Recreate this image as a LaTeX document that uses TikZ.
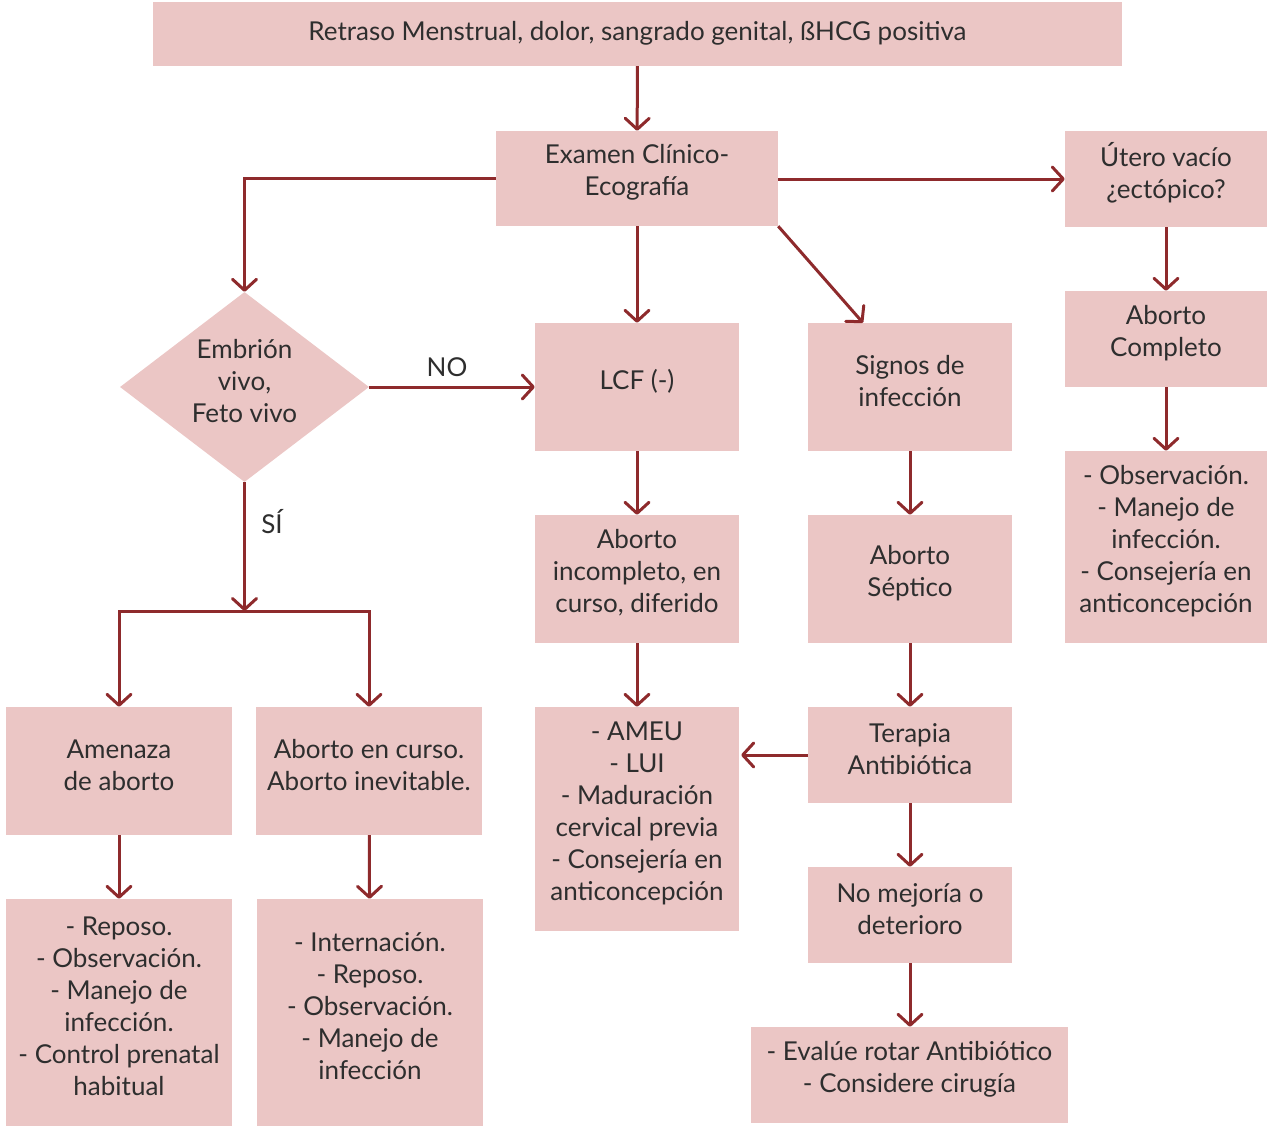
\documentclass[tikz,border=0pt]{standalone}
\usepackage{fontspec}
\setmainfont{Lato}
\usetikzlibrary{arrows.meta,shapes.geometric}
\definecolor{boxfill}{HTML}{EBC6C5}
\definecolor{linkred}{HTML}{8E2A2C}
\definecolor{txt}{HTML}{2E2E2E}
% filled box (#2 = name, #3 = centre, #4 x #5 = size) with its text set slightly high
\newcommand\flowbox[6][]{%
  \node[box, minimum width=#4pt, minimum height=#5pt, #1] (#2) at (#3) {};
  \node[boxtext] (#2-t) at ([yshift=6pt]#2.center) {#6};}
\begin{document}
\begin{tikzpicture}[x=1pt,y=-1pt,
  box/.style={fill=boxfill, draw=none, inner sep=0pt},
  boxtext/.style={text=txt, align=center, inner sep=0pt,
    font=\fontsize{26}{32}\selectfont},
  lbl/.style={text=txt, inner sep=0pt, font=\fontsize{26}{32}\selectfont},
  link/.style={draw=linkred, line width=3pt,
    -{Straight Barb[length=11pt,width=24pt,line cap=round,line join=round]}}]
\useasboundingbox (0,0) rectangle (1267,1127);

% boxes
\node[box, minimum width=969pt, minimum height=64pt] (top) at (637.5,34) {};
\node[boxtext] (top-t) at ([yshift=1pt]top.center)
  {Retraso Menstrual, dolor, sangrado genital, ßHCG positiva};
\flowbox{exam}{637,178.5}{282}{95}{Examen Clínico-\\Ecografía}
\flowbox{utero}{1166,179}{202}{96}{Útero vacío\\¿ectópico?}
\flowbox{compl}{1166,339}{202}{96}{Aborto\\Completo}
\flowbox{obsr}{1166,547}{202}{192}
  {- Observación.\\- Manejo de\\infección.\\- Consejería en\\anticoncepción}
\flowbox[shape=diamond]{dia}{244.5,387}{249}{190}{Embrión\\vivo,\\Feto vivo}
\flowbox{lcf}{637,387}{204}{128}{LCF (-)}
\flowbox{signos}{910,387}{204}{128}{Signos de\\infección}
\flowbox{incomp}{637,579}{204}{128}{Aborto\\incompleto, en\\curso, diferido}
\flowbox{septico}{910,579}{204}{128}{Aborto\\Séptico}
\flowbox{ameu}{637,819}{204}{224}
  {- AMEU\\- LUI\\- Maduración\\cervical previa\\- Consejería en\\anticoncepción}
\flowbox{terapia}{910,755}{204}{96}{Terapia\\Antibiótica}
\flowbox{nomej}{910,915}{204}{96}{No mejoría o\\deterioro}
\flowbox{evalue}{909.5,1075}{317}{96}
  {- Evalúe rotar Antibiótico\\- Considere cirugía}
\flowbox{amenaza}{119,771}{226}{128}{Amenaza\\de aborto}
\flowbox{curso}{369,771}{226}{128}{Aborto en curso.\\Aborto inevitable.}
\flowbox{reposo}{119,1012.5}{226}{227}
  {- Reposo.\\- Observación.\\- Manejo de\\infección.\\- Control prenatal\\habitual}
\flowbox{intern}{370,1012.5}{226}{227}
  {- Internación.\\- Reposo.\\- Observación.\\- Manejo de\\infección}

% branch point below the decision
\coordinate (split) at (244.5,611);

% labels
\node[lbl] (no) at (447,367) {NO};
\node[lbl] (si) at (272,522) {SÍ};

% connectors
\draw[link] (top) -- (exam);
\draw[link] (exam.west) -| (dia.north);
\draw[link] (exam.east |- utero.west) -- (utero.west);
\draw[link] (exam) -- (lcf);
\draw[link] (exam.south east) -- ([xshift=-47pt]signos.north);
\draw[link] (dia.east) -- (lcf.west |- dia.east);
\draw[link] (dia.south) -- (split);
\draw[link] (split) -| (amenaza.north);
\draw[link] (split) -| (curso.north);
\draw[link] (amenaza) -- (reposo);
\draw[link] (curso) -- (intern);
\draw[link] (lcf) -- (incomp);
\draw[link] (incomp) -- (ameu);
\draw[link] (signos) -- (septico);
\draw[link] (septico) -- (terapia);
\draw[link] (terapia) -- (nomej);
\draw[link] (nomej.south) -- (nomej.south |- evalue.north);
\draw[link] (terapia.west) -- ([xshift=2pt]ameu.east |- terapia.west);
\draw[link] (utero) -- (compl);
\draw[link] (compl) -- (obsr);
\end{tikzpicture}
\end{document}
